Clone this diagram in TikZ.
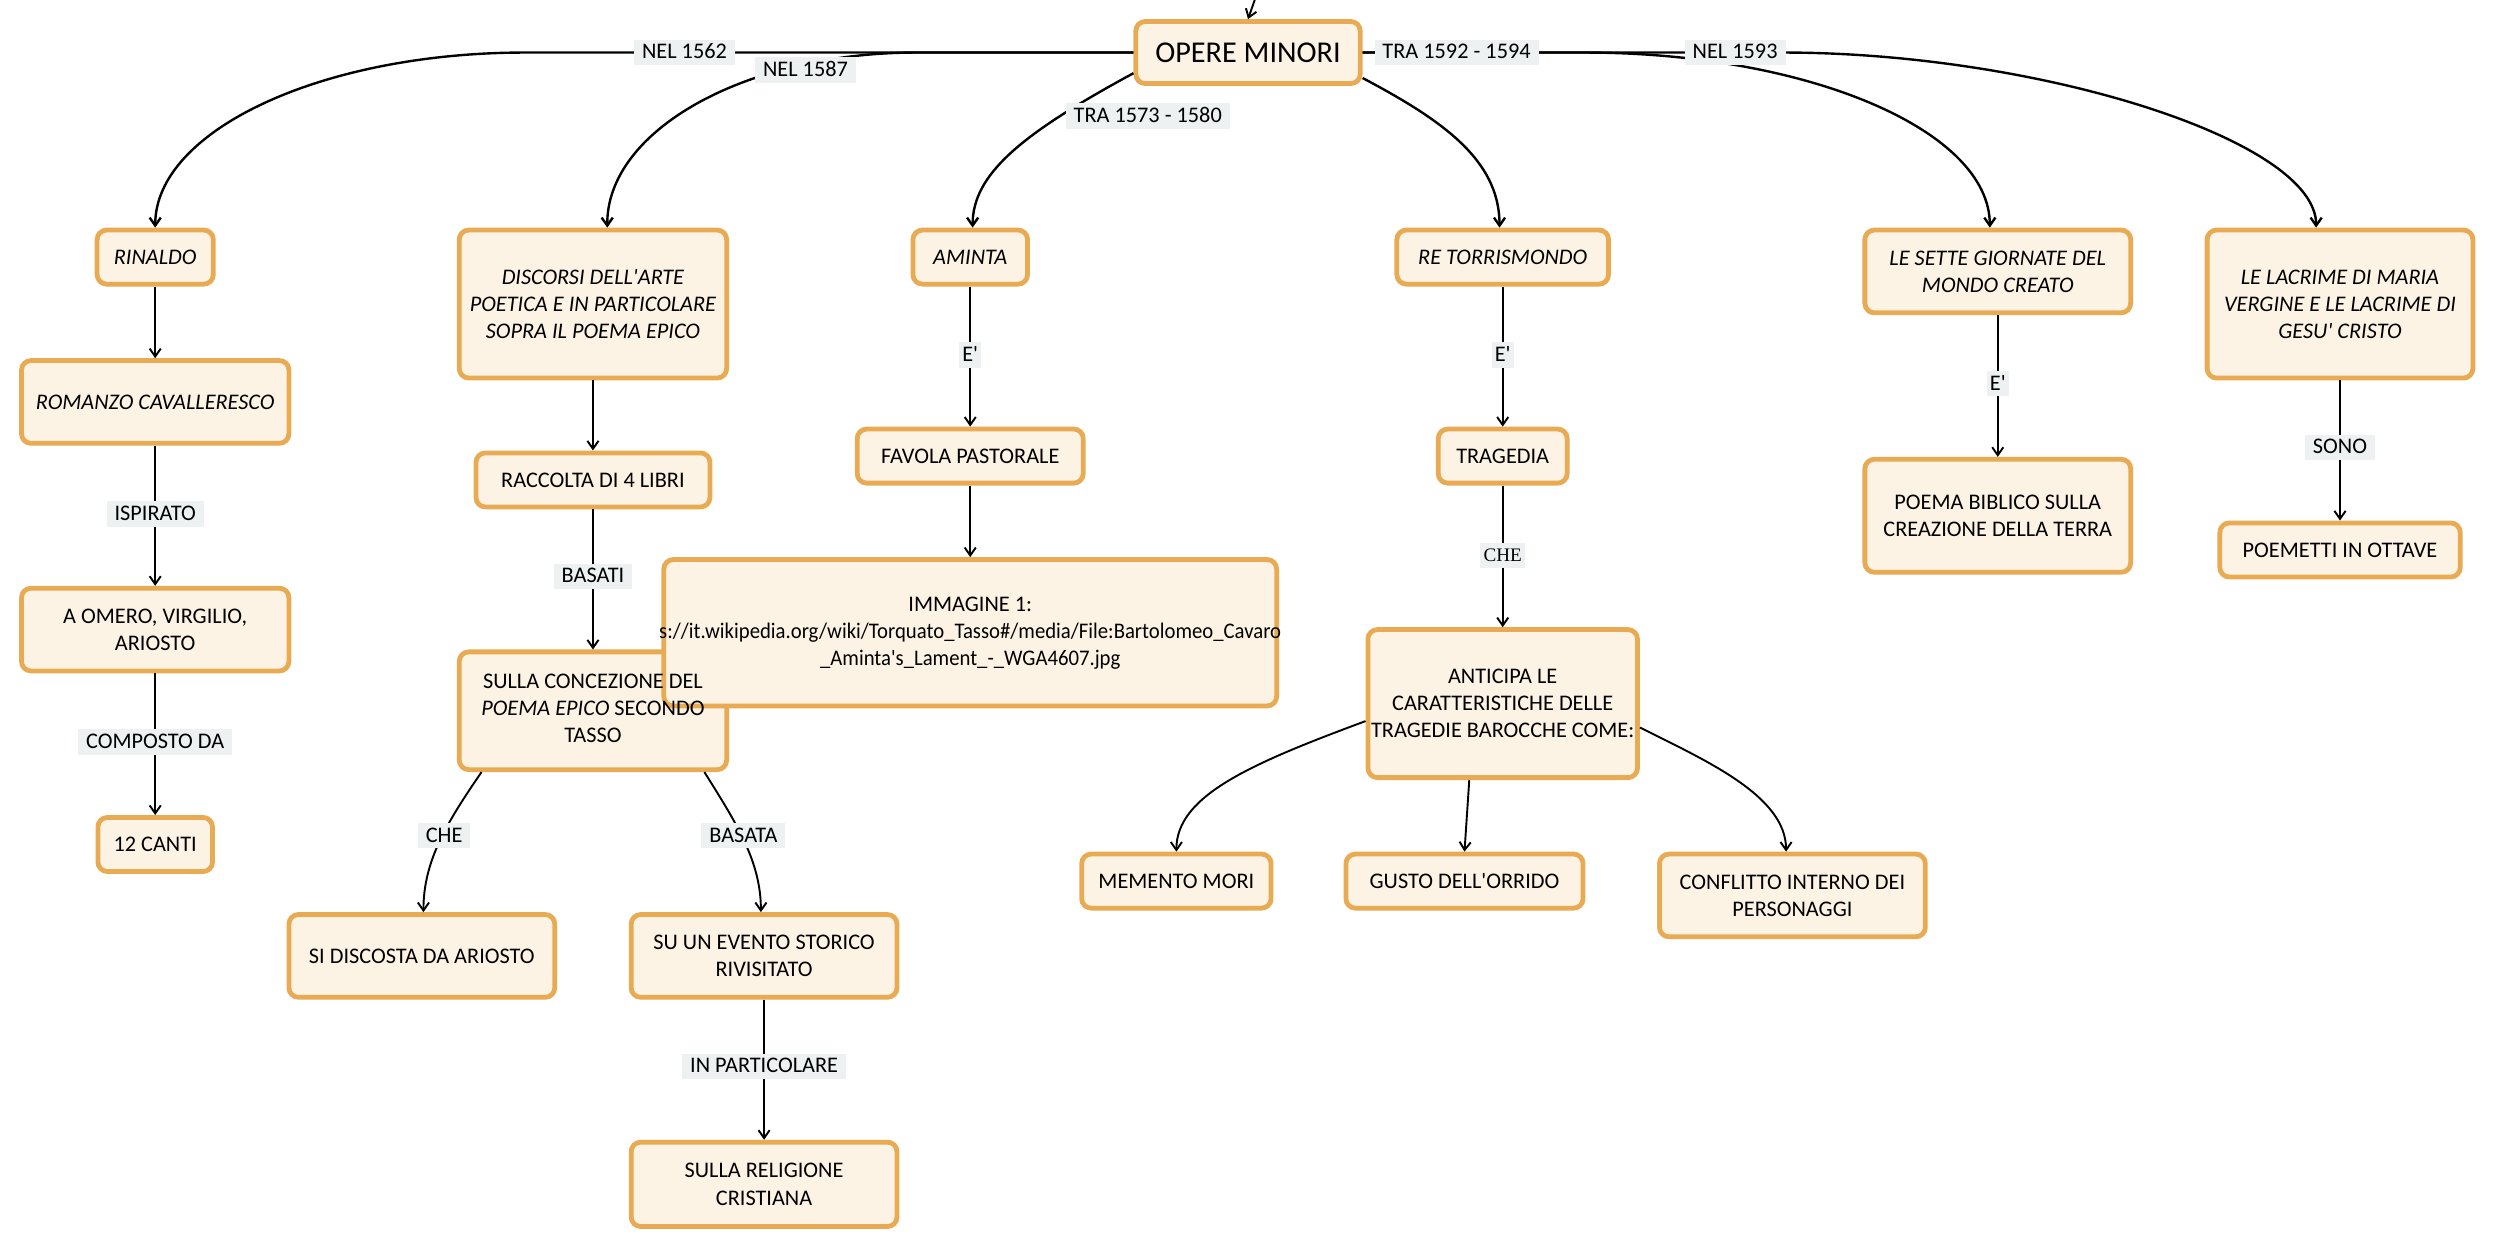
\documentclass[tikz,border=0pt]{standalone}
\usepackage{fontspec}
\usepackage{graphicx}
\setmainfont{Carlito}
\newfontfamily\serifcf{Liberation Serif}
\usetikzlibrary{arrows.meta}
\definecolor{boxborder}{RGB}{232,170,82}
\definecolor{boxfill}{RGB}{253,243,228}
\definecolor{lblfill}{RGB}{237,241,242}
\newcommand{\ap}{\textquotesingle}
\newcommand{\narrowline}[1]{\makebox[0pt][c]{\scalebox{0.93}[1]{#1}}}
\tikzset{
  box/.style={draw=boxborder, fill=boxfill, line width=3pt, rounded corners=6pt,
    align=center, font=\fontsize{14}{17}\selectfont, inner sep=2pt},
  lbl/.style={fill=lblfill, font=\fontsize{14}{17}\selectfont, inner xsep=5pt,
    inner ysep=2pt, text height=10pt, text depth=2pt},
  conn/.style={line width=1.2pt, -{Straight Barb[length=5pt,width=7pt]}},
  bigconn/.style={conn, line width=1.5pt},
}
\begin{document}
\begin{tikzpicture}[x=1pt, y=-1pt]
\fill[white] (0,0) rectangle (1568,785);
\useasboundingbox (0,0) rectangle (1568,785);

% nodes
\node[box, minimum width=141pt, minimum height=39pt, font=\fontsize{19}{22}\selectfont] (opere) at (784,33) {OPERE MINORI};
\coordinate (topin) at (791,-8);

\node[box, minimum width=73pt, minimum height=34pt] (rinaldo) at (97.5,161.5) {\itshape RINALDO};
\node[box, minimum width=168pt, minimum height=52pt] (romanzo) at (97.5,252.5) {\itshape ROMANZO CAVALLERESCO};
\node[box, minimum width=168pt, minimum height=52pt] (omero) at (97.5,395.5) {A OMERO, VIRGILIO,\\ARIOSTO};
\node[box, minimum width=72pt, minimum height=34pt] (canti) at (97.5,530.5) {12 CANTI};

\node[box, minimum width=168pt, minimum height=93pt] (discorsi) at (372.5,191) {\itshape DISCORSI DELL\ap ARTE\\\itshape POETICA E IN PARTICOLARE\\\itshape SOPRA IL POEMA EPICO};
\node[box, minimum width=147pt, minimum height=34pt] (raccolta) at (372.5,301.5) {RACCOLTA DI 4 LIBRI};
\node[box, minimum width=168pt, minimum height=74pt] (sulla) at (372.5,446.5) {};
\node[box, minimum width=167pt, minimum height=52pt] (discosta) at (265,600.5) {SI DISCOSTA DA ARIOSTO};
\node[box, minimum width=167pt, minimum height=52pt] (evento) at (480,600.5) {SU UN EVENTO STORICO\\RIVISITATO};
\node[box, minimum width=167pt, minimum height=53pt] (religione) at (480,744) {SULLA RELIGIONE\\CRISTIANA};

\node[box, minimum width=72pt, minimum height=34pt] (aminta) at (609.5,161.5) {\itshape AMINTA};
\node[box, minimum width=142pt, minimum height=34pt] (favola) at (609.5,286.5) {FAVOLA PASTORALE};
\node[box, minimum width=385pt, minimum height=92pt] (immagine) at (609.5,397.5) {IMMAGINE 1:\\\narrowline{s://it.wikipedia.org/wiki/Torquato\_Tasso\#/media/File:Bartolomeo\_Cavaro}\\\narrowline{\_Aminta\ap s\_Lament\_-\_WGA4607.jpg}};
\node[align=center, font=\fontsize{14}{17}\selectfont, inner sep=0pt] (sullatext) at (372.5,445) {SULLA CONCEZIONE DEL\\\textit{POEMA EPICO} SECONDO\\TASSO};

\node[box, minimum width=133pt, minimum height=34pt] (retorr) at (944,161.5) {\itshape RE TORRISMONDO};
\node[box, minimum width=81pt, minimum height=34pt] (tragedia) at (944,286.5) {TRAGEDIA};
\node[box, minimum width=167pt, minimum height=93pt] (anticipa) at (944,442) {ANTICIPA LE\\CARATTERISTICHE DELLE\\TRAGEDIE BAROCCHE COME:};
\node[box, minimum width=119pt, minimum height=34pt] (memento) at (739,553.5) {MEMENTO MORI};
\node[box, minimum width=149pt, minimum height=34pt] (gusto) at (920,553.5) {GUSTO DELL\ap ORRIDO};
\node[box, minimum width=167pt, minimum height=52pt] (conflitto) at (1126,562.5) {CONFLITTO INTERNO DEI\\PERSONAGGI};

\node[box, minimum width=167pt, minimum height=52pt] (sette) at (1255,170.5) {\itshape LE SETTE GIORNATE DEL\\\itshape MONDO CREATO};
\node[box, minimum width=167pt, minimum height=71pt] (biblico) at (1255,324) {POEMA BIBLICO SULLA\\CREAZIONE DELLA TERRA};
\node[box, minimum width=167pt, minimum height=93pt] (lacrime) at (1470,191) {\itshape LE LACRIME DI MARIA\\\itshape VERGINE E LE LACRIME DI\\\itshape GESU\ap{} CRISTO};
\node[box, minimum width=151pt, minimum height=34pt] (poemetti) at (1470,345.5) {POEMETTI IN OTTAVE};

% connectors
\draw[conn] (topin) -- (opere.north);
\draw[bigconn] (opere.west) -- (330,33) .. controls (202,33) and (97.5,82) .. (rinaldo.north);
\draw[bigconn] (opere.west) -- (576,33) .. controls (468,33) and (381,82) .. ([xshift=9pt]discorsi.north);
\draw[bigconn] ([yshift=-13pt]opere.west) .. controls (640,85) and (611,110) .. ([xshift=1.5pt]aminta.north);
\draw[bigconn] ([yshift=-16pt]opere.east) .. controls (905,75) and (942,100) .. ([xshift=-2pt]retorr.north);
\draw[bigconn] (opere.east) -- (995,33) .. controls (1136,33) and (1250,82) .. ([xshift=-5pt]sette.north);
\draw[bigconn] (opere.east) -- (1120,33) .. controls (1280,33) and (1455,88) .. ([xshift=-15pt]lacrime.north);

\draw[conn] (rinaldo) -- (romanzo);
\draw[conn] (romanzo) -- (omero);
\draw[conn] (omero) -- (canti);
\draw[conn] (discorsi) -- (raccolta);
\draw[conn] (raccolta) -- (sulla);
\draw[conn] ([xshift=-70pt]sulla.south) .. controls +(-22,32) and +(0,-32) .. ([xshift=1pt]discosta.north);
\draw[conn] ([xshift=70pt]sulla.south) .. controls +(20,32) and +(0,-32) .. ([xshift=-2pt]evento.north);
\draw[conn] (evento) -- (religione);
\draw[conn] (aminta) -- (favola);
\draw[conn] (favola) -- (immagine);
\draw[conn] (retorr) -- (tragedia);
\draw[conn] (tragedia) -- (anticipa);
\draw[conn] ([yshift=-11pt]anticipa.west) .. controls (785,480) and (739,500) .. (memento.north);
\draw[conn] ([xshift=-21pt]anticipa.south) -- (gusto.north);
\draw[conn] ([yshift=-15pt]anticipa.east) .. controls (1072,478) and (1122,500) .. ([xshift=-4pt]conflitto.north);
\draw[conn] (sette) -- (biblico);
\draw[conn] (lacrime) -- (poemetti);

% labels
\node[lbl] (l1) at (430,33) {NEL 1562};
\node[lbl] (l2) at (506,44) {NEL 1587};
\node[lbl] (l3) at (721,73) {TRA 1573 - 1580};
\node[lbl] (l4) at (915,33) {TRA 1592 - 1594};
\node[lbl] (l5) at (1090,33) {NEL 1593};
\node[lbl] (l6) at (97.5,323) {ISPIRATO};
\node[lbl] (l7) at (97.5,466) {COMPOSTO DA};
\node[lbl] (l8) at (372.5,362) {BASATI};
\node[lbl] (l9) at (279,525) {CHE};
\node[lbl] (l10) at (467,525) {BASATA};
\node[lbl] (l11) at (480,670) {IN PARTICOLARE};
\node[lbl, inner xsep=2pt] (l12) at (609.5,223) {E\ap};
\node[lbl, inner xsep=2pt] (l13) at (944,223) {E\ap};
\node[lbl, inner xsep=2pt, font=\serifcf\fontsize{12}{14}\selectfont] (l14) at (944,349) {CHE};
\node[lbl, inner xsep=2pt] (l15) at (1255,241) {E\ap};
\node[lbl] (l16) at (1470,281) {SONO};
\end{tikzpicture}
\end{document}
